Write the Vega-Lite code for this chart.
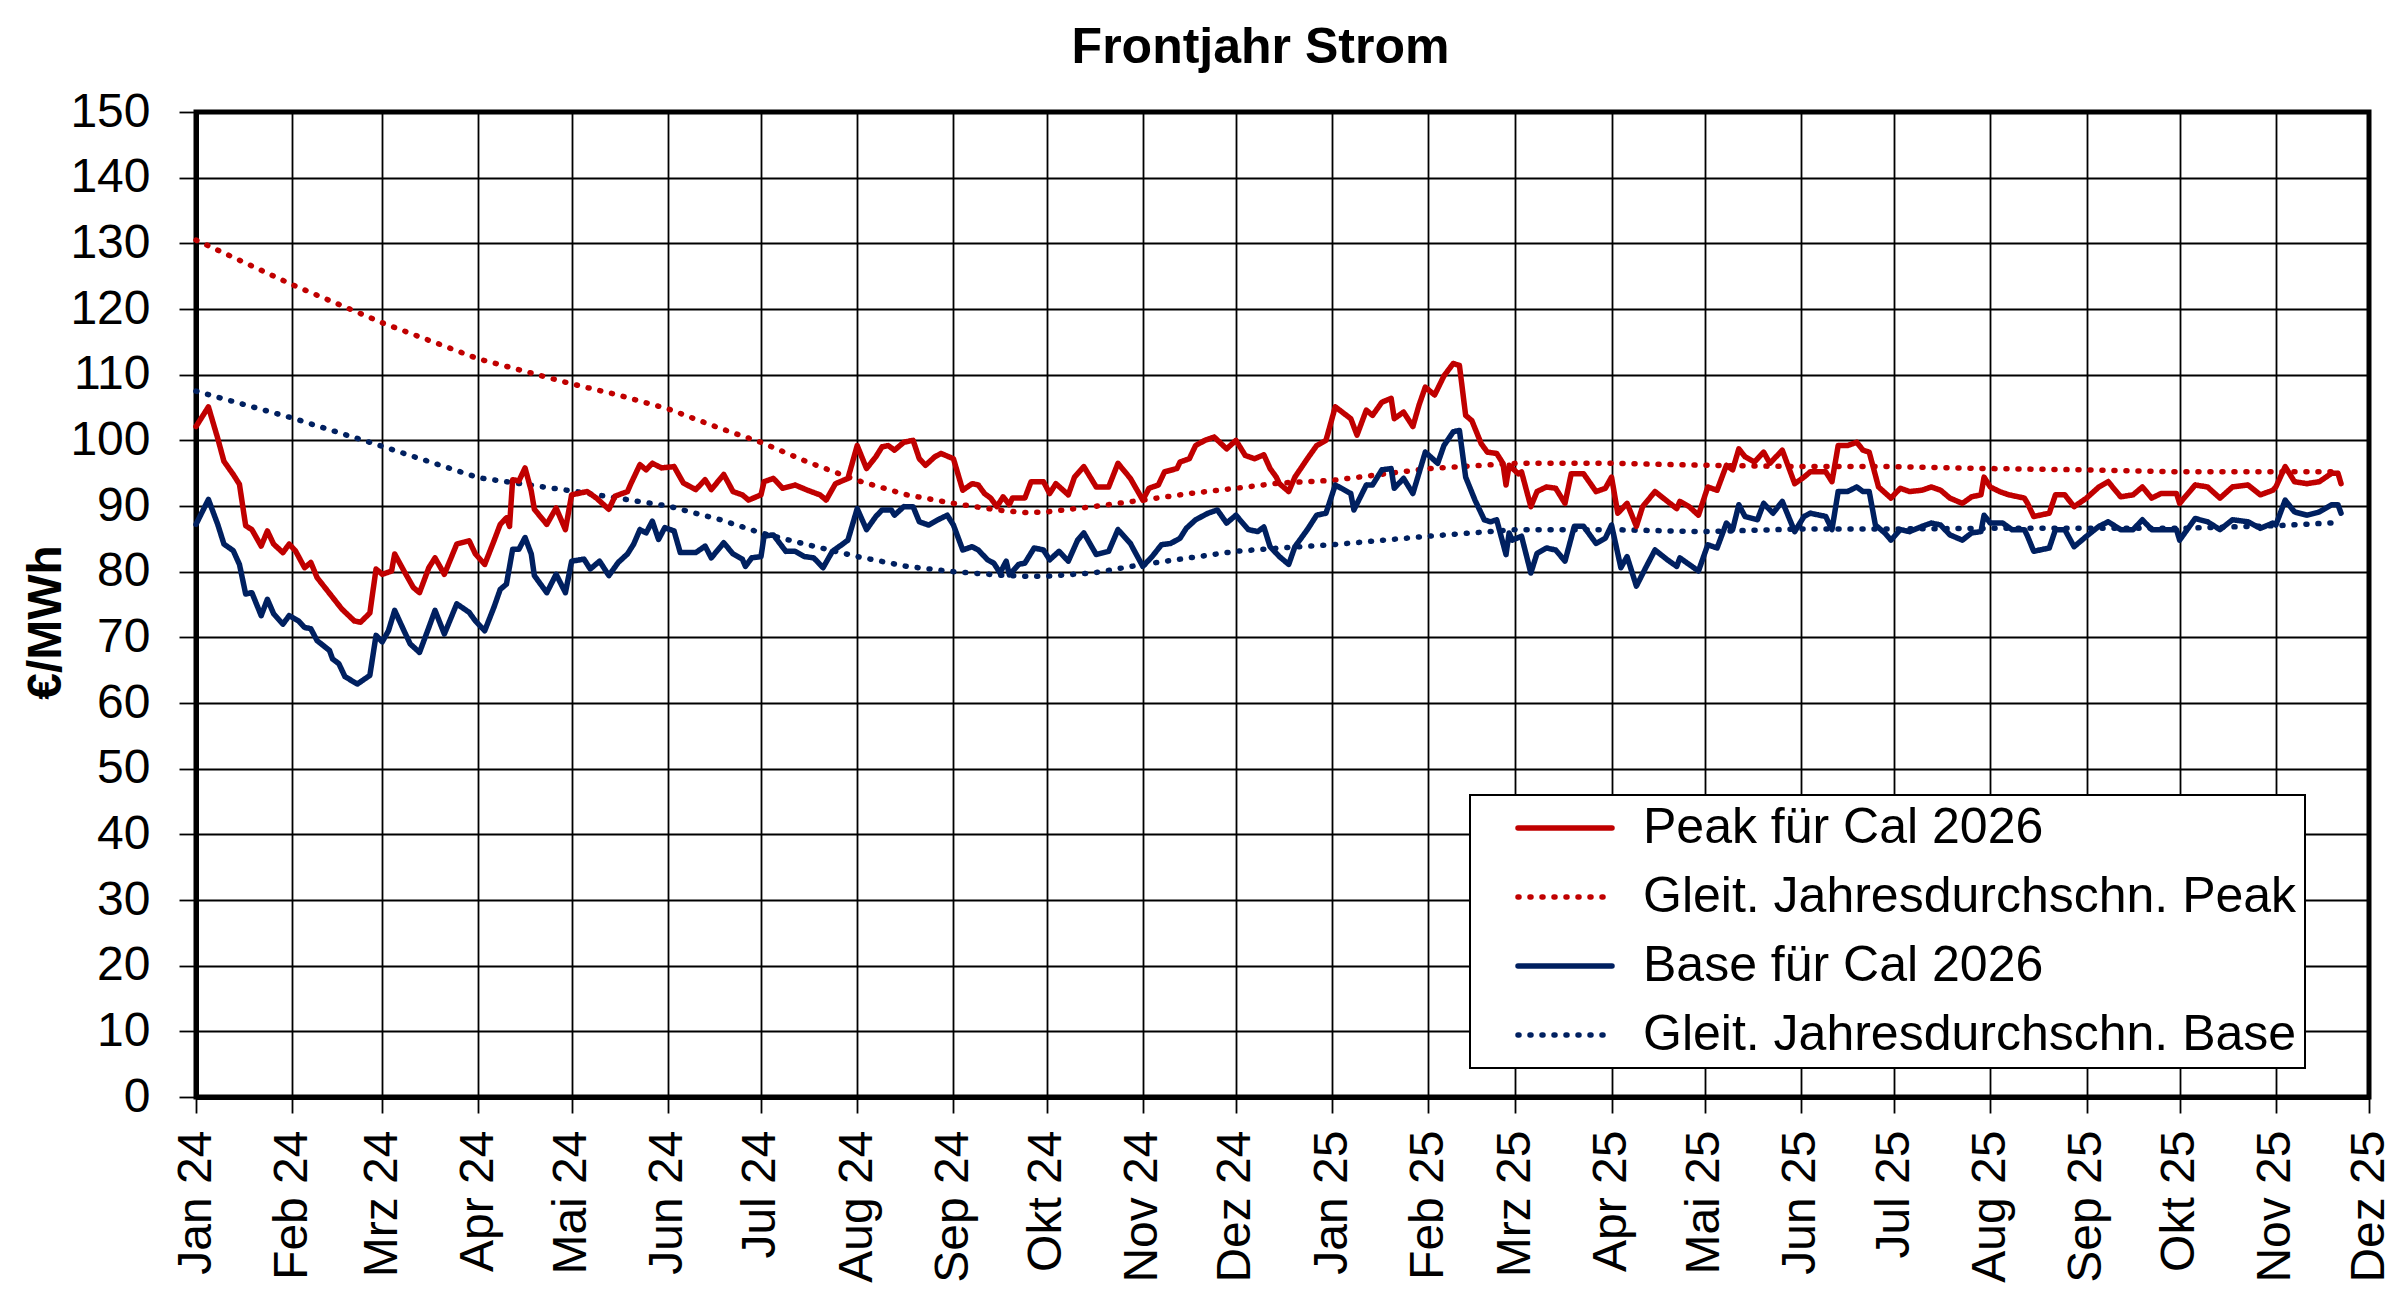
{
"$schema": "https://vega.github.io/schema/vega-lite/v6.json",
"width": 2173, "height": 985,
"autosize": {"type": "none"},
"padding": {"left": 196, "top": 112, "right": 31, "bottom": 201},
"background": "white",
"config": {
 "font": "Liberation Sans",
 "view": {"stroke": "black", "strokeWidth": 5},
 "axis": {"domainColor": "black", "domainWidth": 5, "gridColor": "black", "gridWidth": 1.8, "gridOpacity": 1, "tickColor": "black", "tickWidth": 1.8, "labelColor": "black", "labelFont": "Liberation Sans", "labelFontSize": 48, "titleFont": "Liberation Sans", "titleColor": "black", "labelOverlap": false, "labelFlush": false}
},
"title": {"text": "Frontjahr Strom", "fontSize": 50, "fontWeight": "bold", "font": "Liberation Sans", "color": "black", "anchor": "middle", "frame": "group", "offset": 15, "dx": -22},
"data": {"values": [
{"d":"2024-01-01","s":"Gleit. Jahresdurchschn. Peak","v":130.5},
{"d":"2024-02-01","s":"Gleit. Jahresdurchschn. Peak","v":123.7},
{"d":"2024-03-01","s":"Gleit. Jahresdurchschn. Peak","v":117.9},
{"d":"2024-04-01","s":"Gleit. Jahresdurchschn. Peak","v":112.4},
{"d":"2024-05-01","s":"Gleit. Jahresdurchschn. Peak","v":108.6},
{"d":"2024-05-16","s":"Gleit. Jahresdurchschn. Peak","v":106.9},
{"d":"2024-06-01","s":"Gleit. Jahresdurchschn. Peak","v":104.8},
{"d":"2024-06-18","s":"Gleit. Jahresdurchschn. Peak","v":101.8},
{"d":"2024-07-01","s":"Gleit. Jahresdurchschn. Peak","v":99.7},
{"d":"2024-07-16","s":"Gleit. Jahresdurchschn. Peak","v":96.7},
{"d":"2024-08-01","s":"Gleit. Jahresdurchschn. Peak","v":93.9},
{"d":"2024-08-17","s":"Gleit. Jahresdurchschn. Peak","v":91.7},
{"d":"2024-09-01","s":"Gleit. Jahresdurchschn. Peak","v":90.4},
{"d":"2024-09-15","s":"Gleit. Jahresdurchschn. Peak","v":89.4},
{"d":"2024-09-24","s":"Gleit. Jahresdurchschn. Peak","v":89.0},
{"d":"2024-10-01","s":"Gleit. Jahresdurchschn. Peak","v":89.1},
{"d":"2024-10-16","s":"Gleit. Jahresdurchschn. Peak","v":89.9},
{"d":"2024-11-01","s":"Gleit. Jahresdurchschn. Peak","v":90.9},
{"d":"2024-11-16","s":"Gleit. Jahresdurchschn. Peak","v":91.9},
{"d":"2024-12-01","s":"Gleit. Jahresdurchschn. Peak","v":92.7},
{"d":"2024-12-15","s":"Gleit. Jahresdurchschn. Peak","v":93.5},
{"d":"2025-01-01","s":"Gleit. Jahresdurchschn. Peak","v":93.9},
{"d":"2025-02-01","s":"Gleit. Jahresdurchschn. Peak","v":95.7},
{"d":"2025-03-01","s":"Gleit. Jahresdurchschn. Peak","v":96.5},
{"d":"2025-04-01","s":"Gleit. Jahresdurchschn. Peak","v":96.5},
{"d":"2025-05-01","s":"Gleit. Jahresdurchschn. Peak","v":96.2},
{"d":"2025-06-01","s":"Gleit. Jahresdurchschn. Peak","v":96.0},
{"d":"2025-07-01","s":"Gleit. Jahresdurchschn. Peak","v":96.0},
{"d":"2025-08-01","s":"Gleit. Jahresdurchschn. Peak","v":95.7},
{"d":"2025-09-01","s":"Gleit. Jahresdurchschn. Peak","v":95.5},
{"d":"2025-10-01","s":"Gleit. Jahresdurchschn. Peak","v":95.2},
{"d":"2025-11-01","s":"Gleit. Jahresdurchschn. Peak","v":95.2},
{"d":"2025-11-22","s":"Gleit. Jahresdurchschn. Peak","v":95.2},
{"d":"2024-01-01","s":"Gleit. Jahresdurchschn. Base","v":107.5},
{"d":"2024-02-01","s":"Gleit. Jahresdurchschn. Base","v":103.4},
{"d":"2024-03-01","s":"Gleit. Jahresdurchschn. Base","v":99.1},
{"d":"2024-04-01","s":"Gleit. Jahresdurchschn. Base","v":94.3},
{"d":"2024-05-01","s":"Gleit. Jahresdurchschn. Base","v":92.3},
{"d":"2024-06-01","s":"Gleit. Jahresdurchschn. Base","v":90.0},
{"d":"2024-06-18","s":"Gleit. Jahresdurchschn. Base","v":87.9},
{"d":"2024-07-01","s":"Gleit. Jahresdurchschn. Base","v":85.9},
{"d":"2024-07-16","s":"Gleit. Jahresdurchschn. Base","v":84.1},
{"d":"2024-08-01","s":"Gleit. Jahresdurchschn. Base","v":82.3},
{"d":"2024-08-17","s":"Gleit. Jahresdurchschn. Base","v":80.8},
{"d":"2024-09-01","s":"Gleit. Jahresdurchschn. Base","v":80.0},
{"d":"2024-09-15","s":"Gleit. Jahresdurchschn. Base","v":79.5},
{"d":"2024-09-24","s":"Gleit. Jahresdurchschn. Base","v":79.3},
{"d":"2024-10-01","s":"Gleit. Jahresdurchschn. Base","v":79.3},
{"d":"2024-10-16","s":"Gleit. Jahresdurchschn. Base","v":79.8},
{"d":"2024-11-01","s":"Gleit. Jahresdurchschn. Base","v":81.1},
{"d":"2024-11-16","s":"Gleit. Jahresdurchschn. Base","v":82.1},
{"d":"2024-12-01","s":"Gleit. Jahresdurchschn. Base","v":83.1},
{"d":"2024-12-15","s":"Gleit. Jahresdurchschn. Base","v":83.6},
{"d":"2025-01-01","s":"Gleit. Jahresdurchschn. Base","v":84.1},
{"d":"2025-02-01","s":"Gleit. Jahresdurchschn. Base","v":85.4},
{"d":"2025-03-01","s":"Gleit. Jahresdurchschn. Base","v":86.4},
{"d":"2025-04-01","s":"Gleit. Jahresdurchschn. Base","v":86.4},
{"d":"2025-05-01","s":"Gleit. Jahresdurchschn. Base","v":86.1},
{"d":"2025-06-01","s":"Gleit. Jahresdurchschn. Base","v":86.5},
{"d":"2025-07-01","s":"Gleit. Jahresdurchschn. Base","v":86.5},
{"d":"2025-08-01","s":"Gleit. Jahresdurchschn. Base","v":86.6},
{"d":"2025-09-01","s":"Gleit. Jahresdurchschn. Base","v":86.6},
{"d":"2025-10-01","s":"Gleit. Jahresdurchschn. Base","v":86.6},
{"d":"2025-11-01","s":"Gleit. Jahresdurchschn. Base","v":87.0},
{"d":"2025-11-22","s":"Gleit. Jahresdurchschn. Base","v":87.5},
{"d":"2024-01-01","s":"Base für Cal 2026","v":87.2},
{"d":"2024-01-05","s":"Base für Cal 2026","v":91.0},
{"d":"2024-01-08","s":"Base für Cal 2026","v":87.2},
{"d":"2024-01-10","s":"Base für Cal 2026","v":84.2},
{"d":"2024-01-13","s":"Base für Cal 2026","v":83.2},
{"d":"2024-01-15","s":"Base für Cal 2026","v":81.1},
{"d":"2024-01-17","s":"Base für Cal 2026","v":76.6},
{"d":"2024-01-19","s":"Base für Cal 2026","v":76.8},
{"d":"2024-01-22","s":"Base für Cal 2026","v":73.3},
{"d":"2024-01-24","s":"Base für Cal 2026","v":75.8},
{"d":"2024-01-26","s":"Base für Cal 2026","v":73.6},
{"d":"2024-01-29","s":"Base für Cal 2026","v":72.0},
{"d":"2024-01-31","s":"Base für Cal 2026","v":73.3},
{"d":"2024-02-03","s":"Base für Cal 2026","v":72.5},
{"d":"2024-02-05","s":"Base für Cal 2026","v":71.5},
{"d":"2024-02-07","s":"Base für Cal 2026","v":71.3},
{"d":"2024-02-09","s":"Base für Cal 2026","v":69.5},
{"d":"2024-02-13","s":"Base für Cal 2026","v":68.0},
{"d":"2024-02-14","s":"Base für Cal 2026","v":66.7},
{"d":"2024-02-16","s":"Base für Cal 2026","v":66.0},
{"d":"2024-02-18","s":"Base für Cal 2026","v":64.0},
{"d":"2024-02-22","s":"Base für Cal 2026","v":62.9},
{"d":"2024-02-26","s":"Base für Cal 2026","v":64.2},
{"d":"2024-02-28","s":"Base für Cal 2026","v":70.3},
{"d":"2024-03-01","s":"Base für Cal 2026","v":69.3},
{"d":"2024-03-03","s":"Base für Cal 2026","v":71.0},
{"d":"2024-03-05","s":"Base für Cal 2026","v":74.1},
{"d":"2024-03-08","s":"Base für Cal 2026","v":71.0},
{"d":"2024-03-10","s":"Base für Cal 2026","v":69.0},
{"d":"2024-03-13","s":"Base für Cal 2026","v":67.7},
{"d":"2024-03-16","s":"Base für Cal 2026","v":71.5},
{"d":"2024-03-18","s":"Base für Cal 2026","v":74.1},
{"d":"2024-03-21","s":"Base für Cal 2026","v":70.5},
{"d":"2024-03-25","s":"Base für Cal 2026","v":75.1},
{"d":"2024-03-29","s":"Base für Cal 2026","v":73.8},
{"d":"2024-03-31","s":"Base für Cal 2026","v":72.5},
{"d":"2024-04-03","s":"Base für Cal 2026","v":71.0},
{"d":"2024-04-06","s":"Base für Cal 2026","v":74.6},
{"d":"2024-04-08","s":"Base für Cal 2026","v":77.3},
{"d":"2024-04-10","s":"Base für Cal 2026","v":78.1},
{"d":"2024-04-12","s":"Base für Cal 2026","v":83.4},
{"d":"2024-04-14","s":"Base für Cal 2026","v":83.4},
{"d":"2024-04-16","s":"Base für Cal 2026","v":85.2},
{"d":"2024-04-18","s":"Base für Cal 2026","v":82.7},
{"d":"2024-04-19","s":"Base für Cal 2026","v":79.4},
{"d":"2024-04-23","s":"Base für Cal 2026","v":76.8},
{"d":"2024-04-26","s":"Base für Cal 2026","v":79.6},
{"d":"2024-04-29","s":"Base für Cal 2026","v":76.8},
{"d":"2024-05-01","s":"Base für Cal 2026","v":81.6},
{"d":"2024-05-05","s":"Base für Cal 2026","v":81.9},
{"d":"2024-05-07","s":"Base für Cal 2026","v":80.4},
{"d":"2024-05-10","s":"Base für Cal 2026","v":81.6},
{"d":"2024-05-13","s":"Base für Cal 2026","v":79.4},
{"d":"2024-05-16","s":"Base für Cal 2026","v":81.4},
{"d":"2024-05-19","s":"Base für Cal 2026","v":82.7},
{"d":"2024-05-21","s":"Base für Cal 2026","v":84.2},
{"d":"2024-05-23","s":"Base für Cal 2026","v":86.4},
{"d":"2024-05-25","s":"Base für Cal 2026","v":85.9},
{"d":"2024-05-27","s":"Base für Cal 2026","v":87.7},
{"d":"2024-05-29","s":"Base für Cal 2026","v":84.9},
{"d":"2024-05-31","s":"Base für Cal 2026","v":86.7},
{"d":"2024-06-03","s":"Base für Cal 2026","v":86.2},
{"d":"2024-06-05","s":"Base für Cal 2026","v":82.9},
{"d":"2024-06-10","s":"Base für Cal 2026","v":82.9},
{"d":"2024-06-13","s":"Base für Cal 2026","v":83.9},
{"d":"2024-06-15","s":"Base für Cal 2026","v":82.1},
{"d":"2024-06-19","s":"Base für Cal 2026","v":84.4},
{"d":"2024-06-22","s":"Base für Cal 2026","v":82.7},
{"d":"2024-06-25","s":"Base für Cal 2026","v":81.9},
{"d":"2024-06-26","s":"Base für Cal 2026","v":80.8},
{"d":"2024-06-28","s":"Base für Cal 2026","v":82.1},
{"d":"2024-07-01","s":"Base für Cal 2026","v":82.3},
{"d":"2024-07-02","s":"Base für Cal 2026","v":85.4},
{"d":"2024-07-05","s":"Base für Cal 2026","v":85.6},
{"d":"2024-07-09","s":"Base für Cal 2026","v":83.1},
{"d":"2024-07-12","s":"Base für Cal 2026","v":83.1},
{"d":"2024-07-15","s":"Base für Cal 2026","v":82.3},
{"d":"2024-07-18","s":"Base für Cal 2026","v":82.1},
{"d":"2024-07-21","s":"Base für Cal 2026","v":80.6},
{"d":"2024-07-24","s":"Base für Cal 2026","v":83.1},
{"d":"2024-07-27","s":"Base für Cal 2026","v":84.1},
{"d":"2024-07-29","s":"Base für Cal 2026","v":84.8},
{"d":"2024-08-01","s":"Base für Cal 2026","v":89.6},
{"d":"2024-08-04","s":"Base für Cal 2026","v":86.4},
{"d":"2024-08-07","s":"Base für Cal 2026","v":88.4},
{"d":"2024-08-09","s":"Base für Cal 2026","v":89.4},
{"d":"2024-08-12","s":"Base für Cal 2026","v":89.4},
{"d":"2024-08-13","s":"Base für Cal 2026","v":88.6},
{"d":"2024-08-16","s":"Base für Cal 2026","v":89.9},
{"d":"2024-08-19","s":"Base für Cal 2026","v":89.9},
{"d":"2024-08-21","s":"Base für Cal 2026","v":87.6},
{"d":"2024-08-24","s":"Base für Cal 2026","v":87.1},
{"d":"2024-08-27","s":"Base für Cal 2026","v":87.9},
{"d":"2024-08-30","s":"Base für Cal 2026","v":88.6},
{"d":"2024-09-01","s":"Base für Cal 2026","v":87.1},
{"d":"2024-09-04","s":"Base für Cal 2026","v":83.3},
{"d":"2024-09-07","s":"Base für Cal 2026","v":83.8},
{"d":"2024-09-09","s":"Base für Cal 2026","v":83.3},
{"d":"2024-09-12","s":"Base für Cal 2026","v":81.8},
{"d":"2024-09-14","s":"Base für Cal 2026","v":81.3},
{"d":"2024-09-16","s":"Base für Cal 2026","v":79.8},
{"d":"2024-09-18","s":"Base für Cal 2026","v":81.6},
{"d":"2024-09-19","s":"Base für Cal 2026","v":79.5},
{"d":"2024-09-22","s":"Base für Cal 2026","v":81.1},
{"d":"2024-09-24","s":"Base für Cal 2026","v":81.3},
{"d":"2024-09-27","s":"Base für Cal 2026","v":83.6},
{"d":"2024-09-30","s":"Base für Cal 2026","v":83.3},
{"d":"2024-10-02","s":"Base für Cal 2026","v":81.8},
{"d":"2024-10-05","s":"Base für Cal 2026","v":83.1},
{"d":"2024-10-08","s":"Base für Cal 2026","v":81.6},
{"d":"2024-10-11","s":"Base für Cal 2026","v":84.8},
{"d":"2024-10-13","s":"Base für Cal 2026","v":85.9},
{"d":"2024-10-17","s":"Base für Cal 2026","v":82.6},
{"d":"2024-10-21","s":"Base für Cal 2026","v":83.1},
{"d":"2024-10-24","s":"Base für Cal 2026","v":86.4},
{"d":"2024-10-28","s":"Base für Cal 2026","v":84.3},
{"d":"2024-11-01","s":"Base für Cal 2026","v":80.8},
{"d":"2024-11-04","s":"Base für Cal 2026","v":82.3},
{"d":"2024-11-07","s":"Base für Cal 2026","v":84.1},
{"d":"2024-11-10","s":"Base für Cal 2026","v":84.3},
{"d":"2024-11-13","s":"Base für Cal 2026","v":85.1},
{"d":"2024-11-15","s":"Base für Cal 2026","v":86.6},
{"d":"2024-11-18","s":"Base für Cal 2026","v":87.9},
{"d":"2024-11-22","s":"Base für Cal 2026","v":88.9},
{"d":"2024-11-25","s":"Base für Cal 2026","v":89.4},
{"d":"2024-11-28","s":"Base für Cal 2026","v":87.4},
{"d":"2024-12-01","s":"Base für Cal 2026","v":88.6},
{"d":"2024-12-05","s":"Base für Cal 2026","v":86.4},
{"d":"2024-12-08","s":"Base für Cal 2026","v":86.1},
{"d":"2024-12-10","s":"Base für Cal 2026","v":86.8},
{"d":"2024-12-12","s":"Base für Cal 2026","v":83.8},
{"d":"2024-12-14","s":"Base für Cal 2026","v":82.8},
{"d":"2024-12-15","s":"Base für Cal 2026","v":82.3},
{"d":"2024-12-18","s":"Base für Cal 2026","v":81.1},
{"d":"2024-12-20","s":"Base für Cal 2026","v":83.8},
{"d":"2024-12-24","s":"Base für Cal 2026","v":86.4},
{"d":"2024-12-27","s":"Base für Cal 2026","v":88.6},
{"d":"2024-12-30","s":"Base für Cal 2026","v":88.9},
{"d":"2025-01-02","s":"Base für Cal 2026","v":93.2},
{"d":"2025-01-07","s":"Base für Cal 2026","v":91.9},
{"d":"2025-01-08","s":"Base für Cal 2026","v":89.4},
{"d":"2025-01-12","s":"Base für Cal 2026","v":93.2},
{"d":"2025-01-14","s":"Base für Cal 2026","v":93.2},
{"d":"2025-01-17","s":"Base für Cal 2026","v":95.5},
{"d":"2025-01-20","s":"Base für Cal 2026","v":95.7},
{"d":"2025-01-21","s":"Base für Cal 2026","v":92.7},
{"d":"2025-01-24","s":"Base für Cal 2026","v":94.2},
{"d":"2025-01-27","s":"Base für Cal 2026","v":91.9},
{"d":"2025-01-31","s":"Base für Cal 2026","v":98.2},
{"d":"2025-02-04","s":"Base für Cal 2026","v":96.5},
{"d":"2025-02-06","s":"Base für Cal 2026","v":99.2},
{"d":"2025-02-09","s":"Base für Cal 2026","v":101.3},
{"d":"2025-02-11","s":"Base für Cal 2026","v":101.5},
{"d":"2025-02-13","s":"Base für Cal 2026","v":94.4},
{"d":"2025-02-16","s":"Base für Cal 2026","v":90.9},
{"d":"2025-02-19","s":"Base für Cal 2026","v":87.9},
{"d":"2025-02-21","s":"Base für Cal 2026","v":87.6},
{"d":"2025-02-23","s":"Base für Cal 2026","v":87.9},
{"d":"2025-02-26","s":"Base für Cal 2026","v":82.6},
{"d":"2025-02-27","s":"Base für Cal 2026","v":85.9},
{"d":"2025-02-28","s":"Base für Cal 2026","v":84.8},
{"d":"2025-03-03","s":"Base für Cal 2026","v":85.4},
{"d":"2025-03-06","s":"Base für Cal 2026","v":79.8},
{"d":"2025-03-08","s":"Base für Cal 2026","v":82.8},
{"d":"2025-03-11","s":"Base für Cal 2026","v":83.6},
{"d":"2025-03-14","s":"Base für Cal 2026","v":83.3},
{"d":"2025-03-17","s":"Base für Cal 2026","v":81.6},
{"d":"2025-03-20","s":"Base für Cal 2026","v":86.9},
{"d":"2025-03-23","s":"Base für Cal 2026","v":86.9},
{"d":"2025-03-27","s":"Base für Cal 2026","v":84.3},
{"d":"2025-03-30","s":"Base für Cal 2026","v":85.1},
{"d":"2025-04-01","s":"Base für Cal 2026","v":87.1},
{"d":"2025-04-04","s":"Base für Cal 2026","v":80.6},
{"d":"2025-04-06","s":"Base für Cal 2026","v":82.3},
{"d":"2025-04-09","s":"Base für Cal 2026","v":77.8},
{"d":"2025-04-12","s":"Base für Cal 2026","v":80.6},
{"d":"2025-04-15","s":"Base für Cal 2026","v":83.3},
{"d":"2025-04-19","s":"Base für Cal 2026","v":81.8},
{"d":"2025-04-22","s":"Base für Cal 2026","v":80.8},
{"d":"2025-04-23","s":"Base für Cal 2026","v":82.1},
{"d":"2025-04-26","s":"Base für Cal 2026","v":81.1},
{"d":"2025-04-29","s":"Base für Cal 2026","v":80.1},
{"d":"2025-05-02","s":"Base für Cal 2026","v":84.1},
{"d":"2025-05-05","s":"Base für Cal 2026","v":83.6},
{"d":"2025-05-08","s":"Base für Cal 2026","v":87.4},
{"d":"2025-05-10","s":"Base für Cal 2026","v":86.4},
{"d":"2025-05-12","s":"Base für Cal 2026","v":90.2},
{"d":"2025-05-14","s":"Base für Cal 2026","v":88.4},
{"d":"2025-05-18","s":"Base für Cal 2026","v":87.9},
{"d":"2025-05-20","s":"Base für Cal 2026","v":90.4},
{"d":"2025-05-23","s":"Base für Cal 2026","v":88.9},
{"d":"2025-05-26","s":"Base für Cal 2026","v":90.7},
{"d":"2025-05-30","s":"Base für Cal 2026","v":86.1},
{"d":"2025-06-02","s":"Base für Cal 2026","v":88.4},
{"d":"2025-06-04","s":"Base für Cal 2026","v":88.9},
{"d":"2025-06-07","s":"Base für Cal 2026","v":88.6},
{"d":"2025-06-09","s":"Base für Cal 2026","v":88.4},
{"d":"2025-06-11","s":"Base für Cal 2026","v":86.4},
{"d":"2025-06-13","s":"Base für Cal 2026","v":92.2},
{"d":"2025-06-16","s":"Base für Cal 2026","v":92.2},
{"d":"2025-06-19","s":"Base für Cal 2026","v":92.9},
{"d":"2025-06-21","s":"Base für Cal 2026","v":92.2},
{"d":"2025-06-23","s":"Base für Cal 2026","v":92.2},
{"d":"2025-06-25","s":"Base für Cal 2026","v":87.1},
{"d":"2025-06-28","s":"Base für Cal 2026","v":85.9},
{"d":"2025-06-30","s":"Base für Cal 2026","v":84.8},
{"d":"2025-07-03","s":"Base für Cal 2026","v":86.4},
{"d":"2025-07-06","s":"Base für Cal 2026","v":86.1},
{"d":"2025-07-10","s":"Base für Cal 2026","v":86.9},
{"d":"2025-07-13","s":"Base für Cal 2026","v":87.4},
{"d":"2025-07-16","s":"Base für Cal 2026","v":87.1},
{"d":"2025-07-19","s":"Base für Cal 2026","v":85.6},
{"d":"2025-07-23","s":"Base für Cal 2026","v":84.8},
{"d":"2025-07-26","s":"Base für Cal 2026","v":85.9},
{"d":"2025-07-29","s":"Base für Cal 2026","v":86.1},
{"d":"2025-07-30","s":"Base für Cal 2026","v":88.6},
{"d":"2025-08-01","s":"Base für Cal 2026","v":87.4},
{"d":"2025-08-05","s":"Base für Cal 2026","v":87.4},
{"d":"2025-08-08","s":"Base für Cal 2026","v":86.4},
{"d":"2025-08-12","s":"Base für Cal 2026","v":86.4},
{"d":"2025-08-13","s":"Base für Cal 2026","v":85.4},
{"d":"2025-08-15","s":"Base für Cal 2026","v":83.1},
{"d":"2025-08-20","s":"Base für Cal 2026","v":83.6},
{"d":"2025-08-22","s":"Base für Cal 2026","v":86.4},
{"d":"2025-08-25","s":"Base für Cal 2026","v":86.4},
{"d":"2025-08-28","s":"Base für Cal 2026","v":83.8},
{"d":"2025-09-01","s":"Base für Cal 2026","v":85.4},
{"d":"2025-09-05","s":"Base für Cal 2026","v":86.9},
{"d":"2025-09-08","s":"Base für Cal 2026","v":87.6},
{"d":"2025-09-12","s":"Base für Cal 2026","v":86.4},
{"d":"2025-09-16","s":"Base für Cal 2026","v":86.4},
{"d":"2025-09-19","s":"Base für Cal 2026","v":87.9},
{"d":"2025-09-22","s":"Base für Cal 2026","v":86.4},
{"d":"2025-09-25","s":"Base für Cal 2026","v":86.4},
{"d":"2025-09-30","s":"Base für Cal 2026","v":86.4},
{"d":"2025-10-01","s":"Base für Cal 2026","v":84.8},
{"d":"2025-10-06","s":"Base für Cal 2026","v":88.1},
{"d":"2025-10-10","s":"Base für Cal 2026","v":87.6},
{"d":"2025-10-14","s":"Base für Cal 2026","v":86.4},
{"d":"2025-10-18","s":"Base für Cal 2026","v":87.9},
{"d":"2025-10-23","s":"Base für Cal 2026","v":87.6},
{"d":"2025-10-27","s":"Base für Cal 2026","v":86.6},
{"d":"2025-10-31","s":"Base für Cal 2026","v":87.4},
{"d":"2025-11-01","s":"Base für Cal 2026","v":87.1},
{"d":"2025-11-04","s":"Base für Cal 2026","v":90.9},
{"d":"2025-11-07","s":"Base für Cal 2026","v":89.1},
{"d":"2025-11-11","s":"Base für Cal 2026","v":88.6},
{"d":"2025-11-15","s":"Base für Cal 2026","v":89.1},
{"d":"2025-11-19","s":"Base für Cal 2026","v":90.2},
{"d":"2025-11-21","s":"Base für Cal 2026","v":90.2},
{"d":"2025-11-22","s":"Base für Cal 2026","v":88.9},
{"d":"2024-01-01","s":"Peak für Cal 2026","v":102.1},
{"d":"2024-01-05","s":"Peak für Cal 2026","v":105.1},
{"d":"2024-01-08","s":"Peak für Cal 2026","v":100.3},
{"d":"2024-01-10","s":"Peak für Cal 2026","v":96.8},
{"d":"2024-01-13","s":"Peak für Cal 2026","v":94.8},
{"d":"2024-01-15","s":"Peak für Cal 2026","v":93.3},
{"d":"2024-01-17","s":"Peak für Cal 2026","v":87.0},
{"d":"2024-01-19","s":"Peak für Cal 2026","v":86.4},
{"d":"2024-01-22","s":"Peak für Cal 2026","v":83.9},
{"d":"2024-01-24","s":"Peak für Cal 2026","v":86.2},
{"d":"2024-01-26","s":"Peak für Cal 2026","v":84.2},
{"d":"2024-01-29","s":"Peak für Cal 2026","v":82.9},
{"d":"2024-01-31","s":"Peak für Cal 2026","v":84.2},
{"d":"2024-02-02","s":"Peak für Cal 2026","v":83.2},
{"d":"2024-02-05","s":"Peak für Cal 2026","v":80.6},
{"d":"2024-02-07","s":"Peak für Cal 2026","v":81.4},
{"d":"2024-02-09","s":"Peak für Cal 2026","v":79.1},
{"d":"2024-02-14","s":"Peak für Cal 2026","v":76.1},
{"d":"2024-02-17","s":"Peak für Cal 2026","v":74.3},
{"d":"2024-02-21","s":"Peak für Cal 2026","v":72.5},
{"d":"2024-02-23","s":"Peak für Cal 2026","v":72.3},
{"d":"2024-02-26","s":"Peak für Cal 2026","v":73.7},
{"d":"2024-02-28","s":"Peak für Cal 2026","v":80.4},
{"d":"2024-03-01","s":"Peak für Cal 2026","v":79.6},
{"d":"2024-03-04","s":"Peak für Cal 2026","v":80.1},
{"d":"2024-03-05","s":"Peak für Cal 2026","v":82.7},
{"d":"2024-03-08","s":"Peak für Cal 2026","v":80.1},
{"d":"2024-03-11","s":"Peak für Cal 2026","v":77.6},
{"d":"2024-03-13","s":"Peak für Cal 2026","v":76.8},
{"d":"2024-03-16","s":"Peak für Cal 2026","v":80.6},
{"d":"2024-03-18","s":"Peak für Cal 2026","v":82.1},
{"d":"2024-03-21","s":"Peak für Cal 2026","v":79.6},
{"d":"2024-03-25","s":"Peak für Cal 2026","v":84.2},
{"d":"2024-03-29","s":"Peak für Cal 2026","v":84.7},
{"d":"2024-03-31","s":"Peak für Cal 2026","v":82.7},
{"d":"2024-04-03","s":"Peak für Cal 2026","v":81.1},
{"d":"2024-04-06","s":"Peak für Cal 2026","v":84.7},
{"d":"2024-04-08","s":"Peak für Cal 2026","v":87.2},
{"d":"2024-04-10","s":"Peak für Cal 2026","v":88.2},
{"d":"2024-04-11","s":"Peak für Cal 2026","v":86.9},
{"d":"2024-04-12","s":"Peak für Cal 2026","v":94.0},
{"d":"2024-04-14","s":"Peak für Cal 2026","v":93.8},
{"d":"2024-04-16","s":"Peak für Cal 2026","v":95.8},
{"d":"2024-04-18","s":"Peak für Cal 2026","v":92.3},
{"d":"2024-04-19","s":"Peak für Cal 2026","v":89.5},
{"d":"2024-04-23","s":"Peak für Cal 2026","v":87.2},
{"d":"2024-04-26","s":"Peak für Cal 2026","v":89.7},
{"d":"2024-04-29","s":"Peak für Cal 2026","v":86.4},
{"d":"2024-05-01","s":"Peak für Cal 2026","v":91.7},
{"d":"2024-05-06","s":"Peak für Cal 2026","v":92.2},
{"d":"2024-05-09","s":"Peak für Cal 2026","v":91.2},
{"d":"2024-05-13","s":"Peak für Cal 2026","v":89.5},
{"d":"2024-05-15","s":"Peak für Cal 2026","v":91.5},
{"d":"2024-05-19","s":"Peak für Cal 2026","v":92.2},
{"d":"2024-05-20","s":"Peak für Cal 2026","v":93.3},
{"d":"2024-05-23","s":"Peak für Cal 2026","v":96.3},
{"d":"2024-05-25","s":"Peak für Cal 2026","v":95.5},
{"d":"2024-05-27","s":"Peak für Cal 2026","v":96.5},
{"d":"2024-05-30","s":"Peak für Cal 2026","v":95.8},
{"d":"2024-06-03","s":"Peak für Cal 2026","v":96.0},
{"d":"2024-06-06","s":"Peak für Cal 2026","v":93.5},
{"d":"2024-06-10","s":"Peak für Cal 2026","v":92.5},
{"d":"2024-06-13","s":"Peak für Cal 2026","v":94.0},
{"d":"2024-06-15","s":"Peak für Cal 2026","v":92.5},
{"d":"2024-06-19","s":"Peak für Cal 2026","v":94.8},
{"d":"2024-06-22","s":"Peak für Cal 2026","v":92.2},
{"d":"2024-06-25","s":"Peak für Cal 2026","v":91.7},
{"d":"2024-06-27","s":"Peak für Cal 2026","v":90.9},
{"d":"2024-07-01","s":"Peak für Cal 2026","v":91.7},
{"d":"2024-07-02","s":"Peak für Cal 2026","v":93.7},
{"d":"2024-07-05","s":"Peak für Cal 2026","v":94.2},
{"d":"2024-07-08","s":"Peak für Cal 2026","v":92.7},
{"d":"2024-07-12","s":"Peak für Cal 2026","v":93.2},
{"d":"2024-07-16","s":"Peak für Cal 2026","v":92.4},
{"d":"2024-07-20","s":"Peak für Cal 2026","v":91.7},
{"d":"2024-07-22","s":"Peak für Cal 2026","v":90.9},
{"d":"2024-07-25","s":"Peak für Cal 2026","v":93.4},
{"d":"2024-07-29","s":"Peak für Cal 2026","v":94.2},
{"d":"2024-08-01","s":"Peak für Cal 2026","v":99.2},
{"d":"2024-08-04","s":"Peak für Cal 2026","v":95.7},
{"d":"2024-08-07","s":"Peak für Cal 2026","v":97.5},
{"d":"2024-08-09","s":"Peak für Cal 2026","v":99.0},
{"d":"2024-08-11","s":"Peak für Cal 2026","v":99.2},
{"d":"2024-08-13","s":"Peak für Cal 2026","v":98.5},
{"d":"2024-08-16","s":"Peak für Cal 2026","v":99.7},
{"d":"2024-08-19","s":"Peak für Cal 2026","v":100.0},
{"d":"2024-08-21","s":"Peak für Cal 2026","v":97.2},
{"d":"2024-08-23","s":"Peak für Cal 2026","v":96.2},
{"d":"2024-08-26","s":"Peak für Cal 2026","v":97.5},
{"d":"2024-08-28","s":"Peak für Cal 2026","v":98.0},
{"d":"2024-09-01","s":"Peak für Cal 2026","v":97.2},
{"d":"2024-09-04","s":"Peak für Cal 2026","v":92.4},
{"d":"2024-09-07","s":"Peak für Cal 2026","v":93.4},
{"d":"2024-09-09","s":"Peak für Cal 2026","v":93.2},
{"d":"2024-09-11","s":"Peak für Cal 2026","v":91.9},
{"d":"2024-09-13","s":"Peak für Cal 2026","v":91.2},
{"d":"2024-09-15","s":"Peak für Cal 2026","v":89.9},
{"d":"2024-09-17","s":"Peak für Cal 2026","v":91.4},
{"d":"2024-09-19","s":"Peak für Cal 2026","v":90.2},
{"d":"2024-09-20","s":"Peak für Cal 2026","v":91.2},
{"d":"2024-09-24","s":"Peak für Cal 2026","v":91.2},
{"d":"2024-09-26","s":"Peak für Cal 2026","v":93.7},
{"d":"2024-09-30","s":"Peak für Cal 2026","v":93.7},
{"d":"2024-10-02","s":"Peak für Cal 2026","v":91.9},
{"d":"2024-10-04","s":"Peak für Cal 2026","v":93.4},
{"d":"2024-10-08","s":"Peak für Cal 2026","v":91.7},
{"d":"2024-10-10","s":"Peak für Cal 2026","v":94.4},
{"d":"2024-10-13","s":"Peak für Cal 2026","v":96.0},
{"d":"2024-10-17","s":"Peak für Cal 2026","v":92.9},
{"d":"2024-10-21","s":"Peak für Cal 2026","v":92.9},
{"d":"2024-10-24","s":"Peak für Cal 2026","v":96.5},
{"d":"2024-10-28","s":"Peak für Cal 2026","v":94.2},
{"d":"2024-11-01","s":"Peak für Cal 2026","v":90.9},
{"d":"2024-11-03","s":"Peak für Cal 2026","v":92.7},
{"d":"2024-11-06","s":"Peak für Cal 2026","v":93.2},
{"d":"2024-11-08","s":"Peak für Cal 2026","v":95.2},
{"d":"2024-11-12","s":"Peak für Cal 2026","v":95.7},
{"d":"2024-11-13","s":"Peak für Cal 2026","v":96.7},
{"d":"2024-11-16","s":"Peak für Cal 2026","v":97.2},
{"d":"2024-11-18","s":"Peak für Cal 2026","v":99.2},
{"d":"2024-11-21","s":"Peak für Cal 2026","v":100.0},
{"d":"2024-11-24","s":"Peak für Cal 2026","v":100.5},
{"d":"2024-11-28","s":"Peak für Cal 2026","v":98.7},
{"d":"2024-12-01","s":"Peak für Cal 2026","v":100.0},
{"d":"2024-12-04","s":"Peak für Cal 2026","v":97.7},
{"d":"2024-12-07","s":"Peak für Cal 2026","v":97.2},
{"d":"2024-12-10","s":"Peak für Cal 2026","v":97.8},
{"d":"2024-12-12","s":"Peak für Cal 2026","v":95.7},
{"d":"2024-12-14","s":"Peak für Cal 2026","v":94.4},
{"d":"2024-12-15","s":"Peak für Cal 2026","v":93.4},
{"d":"2024-12-18","s":"Peak für Cal 2026","v":92.2},
{"d":"2024-12-20","s":"Peak für Cal 2026","v":94.4},
{"d":"2024-12-24","s":"Peak für Cal 2026","v":97.2},
{"d":"2024-12-27","s":"Peak für Cal 2026","v":99.2},
{"d":"2024-12-30","s":"Peak für Cal 2026","v":100.0},
{"d":"2025-01-02","s":"Peak für Cal 2026","v":105.1},
{"d":"2025-01-07","s":"Peak für Cal 2026","v":103.3},
{"d":"2025-01-09","s":"Peak für Cal 2026","v":100.8},
{"d":"2025-01-12","s":"Peak für Cal 2026","v":104.6},
{"d":"2025-01-14","s":"Peak für Cal 2026","v":103.8},
{"d":"2025-01-17","s":"Peak für Cal 2026","v":105.8},
{"d":"2025-01-20","s":"Peak für Cal 2026","v":106.4},
{"d":"2025-01-21","s":"Peak für Cal 2026","v":103.3},
{"d":"2025-01-24","s":"Peak für Cal 2026","v":104.3},
{"d":"2025-01-27","s":"Peak für Cal 2026","v":102.1},
{"d":"2025-01-29","s":"Peak für Cal 2026","v":105.4},
{"d":"2025-01-31","s":"Peak für Cal 2026","v":108.1},
{"d":"2025-02-03","s":"Peak für Cal 2026","v":106.9},
{"d":"2025-02-06","s":"Peak für Cal 2026","v":109.8},
{"d":"2025-02-09","s":"Peak für Cal 2026","v":111.7},
{"d":"2025-02-11","s":"Peak für Cal 2026","v":111.4},
{"d":"2025-02-13","s":"Peak für Cal 2026","v":103.8},
{"d":"2025-02-15","s":"Peak für Cal 2026","v":103.0},
{"d":"2025-02-18","s":"Peak für Cal 2026","v":99.5},
{"d":"2025-02-20","s":"Peak für Cal 2026","v":98.2},
{"d":"2025-02-23","s":"Peak für Cal 2026","v":98.0},
{"d":"2025-02-25","s":"Peak für Cal 2026","v":96.5},
{"d":"2025-02-26","s":"Peak für Cal 2026","v":93.2},
{"d":"2025-02-27","s":"Peak für Cal 2026","v":96.2},
{"d":"2025-03-02","s":"Peak für Cal 2026","v":94.9},
{"d":"2025-03-03","s":"Peak für Cal 2026","v":95.2},
{"d":"2025-03-06","s":"Peak für Cal 2026","v":89.9},
{"d":"2025-03-08","s":"Peak für Cal 2026","v":92.2},
{"d":"2025-03-11","s":"Peak für Cal 2026","v":92.9},
{"d":"2025-03-14","s":"Peak für Cal 2026","v":92.7},
{"d":"2025-03-17","s":"Peak für Cal 2026","v":90.4},
{"d":"2025-03-19","s":"Peak für Cal 2026","v":94.9},
{"d":"2025-03-23","s":"Peak für Cal 2026","v":94.9},
{"d":"2025-03-27","s":"Peak für Cal 2026","v":92.2},
{"d":"2025-03-30","s":"Peak für Cal 2026","v":92.7},
{"d":"2025-04-01","s":"Peak für Cal 2026","v":94.4},
{"d":"2025-04-03","s":"Peak für Cal 2026","v":88.9},
{"d":"2025-04-06","s":"Peak für Cal 2026","v":90.4},
{"d":"2025-04-09","s":"Peak für Cal 2026","v":86.9},
{"d":"2025-04-11","s":"Peak für Cal 2026","v":89.9},
{"d":"2025-04-15","s":"Peak für Cal 2026","v":92.2},
{"d":"2025-04-19","s":"Peak für Cal 2026","v":90.7},
{"d":"2025-04-22","s":"Peak für Cal 2026","v":89.6},
{"d":"2025-04-23","s":"Peak für Cal 2026","v":90.7},
{"d":"2025-04-26","s":"Peak für Cal 2026","v":89.9},
{"d":"2025-04-29","s":"Peak für Cal 2026","v":88.6},
{"d":"2025-05-02","s":"Peak für Cal 2026","v":92.9},
{"d":"2025-05-05","s":"Peak für Cal 2026","v":92.4},
{"d":"2025-05-08","s":"Peak für Cal 2026","v":96.2},
{"d":"2025-05-10","s":"Peak für Cal 2026","v":95.5},
{"d":"2025-05-12","s":"Peak für Cal 2026","v":98.7},
{"d":"2025-05-14","s":"Peak für Cal 2026","v":97.5},
{"d":"2025-05-17","s":"Peak für Cal 2026","v":96.7},
{"d":"2025-05-20","s":"Peak für Cal 2026","v":98.2},
{"d":"2025-05-22","s":"Peak für Cal 2026","v":96.5},
{"d":"2025-05-26","s":"Peak für Cal 2026","v":98.5},
{"d":"2025-05-30","s":"Peak für Cal 2026","v":93.4},
{"d":"2025-06-02","s":"Peak für Cal 2026","v":94.4},
{"d":"2025-06-04","s":"Peak für Cal 2026","v":95.2},
{"d":"2025-06-07","s":"Peak für Cal 2026","v":95.2},
{"d":"2025-06-09","s":"Peak für Cal 2026","v":95.2},
{"d":"2025-06-11","s":"Peak für Cal 2026","v":93.7},
{"d":"2025-06-13","s":"Peak für Cal 2026","v":99.2},
{"d":"2025-06-16","s":"Peak für Cal 2026","v":99.2},
{"d":"2025-06-19","s":"Peak für Cal 2026","v":99.7},
{"d":"2025-06-21","s":"Peak für Cal 2026","v":98.5},
{"d":"2025-06-23","s":"Peak für Cal 2026","v":98.2},
{"d":"2025-06-26","s":"Peak für Cal 2026","v":92.9},
{"d":"2025-06-30","s":"Peak für Cal 2026","v":91.2},
{"d":"2025-07-03","s":"Peak für Cal 2026","v":92.7},
{"d":"2025-07-06","s":"Peak für Cal 2026","v":92.2},
{"d":"2025-07-10","s":"Peak für Cal 2026","v":92.4},
{"d":"2025-07-13","s":"Peak für Cal 2026","v":92.9},
{"d":"2025-07-16","s":"Peak für Cal 2026","v":92.4},
{"d":"2025-07-19","s":"Peak für Cal 2026","v":91.2},
{"d":"2025-07-23","s":"Peak für Cal 2026","v":90.4},
{"d":"2025-07-26","s":"Peak für Cal 2026","v":91.4},
{"d":"2025-07-29","s":"Peak für Cal 2026","v":91.7},
{"d":"2025-07-30","s":"Peak für Cal 2026","v":94.4},
{"d":"2025-08-01","s":"Peak für Cal 2026","v":92.9},
{"d":"2025-08-04","s":"Peak für Cal 2026","v":92.2},
{"d":"2025-08-07","s":"Peak für Cal 2026","v":91.7},
{"d":"2025-08-12","s":"Peak für Cal 2026","v":91.2},
{"d":"2025-08-13","s":"Peak für Cal 2026","v":90.4},
{"d":"2025-08-15","s":"Peak für Cal 2026","v":88.4},
{"d":"2025-08-20","s":"Peak für Cal 2026","v":88.9},
{"d":"2025-08-22","s":"Peak für Cal 2026","v":91.7},
{"d":"2025-08-25","s":"Peak für Cal 2026","v":91.7},
{"d":"2025-08-28","s":"Peak für Cal 2026","v":89.9},
{"d":"2025-09-01","s":"Peak für Cal 2026","v":91.2},
{"d":"2025-09-05","s":"Peak für Cal 2026","v":92.9},
{"d":"2025-09-08","s":"Peak für Cal 2026","v":93.7},
{"d":"2025-09-12","s":"Peak für Cal 2026","v":91.4},
{"d":"2025-09-16","s":"Peak für Cal 2026","v":91.7},
{"d":"2025-09-19","s":"Peak für Cal 2026","v":92.9},
{"d":"2025-09-22","s":"Peak für Cal 2026","v":91.2},
{"d":"2025-09-25","s":"Peak für Cal 2026","v":91.9},
{"d":"2025-09-30","s":"Peak für Cal 2026","v":91.9},
{"d":"2025-10-01","s":"Peak für Cal 2026","v":90.4},
{"d":"2025-10-06","s":"Peak für Cal 2026","v":93.2},
{"d":"2025-10-10","s":"Peak für Cal 2026","v":92.9},
{"d":"2025-10-14","s":"Peak für Cal 2026","v":91.2},
{"d":"2025-10-18","s":"Peak für Cal 2026","v":92.9},
{"d":"2025-10-23","s":"Peak für Cal 2026","v":93.2},
{"d":"2025-10-27","s":"Peak für Cal 2026","v":91.7},
{"d":"2025-10-31","s":"Peak für Cal 2026","v":92.4},
{"d":"2025-11-01","s":"Peak für Cal 2026","v":92.9},
{"d":"2025-11-04","s":"Peak für Cal 2026","v":96.0},
{"d":"2025-11-07","s":"Peak für Cal 2026","v":93.7},
{"d":"2025-11-11","s":"Peak für Cal 2026","v":93.4},
{"d":"2025-11-15","s":"Peak für Cal 2026","v":93.7},
{"d":"2025-11-19","s":"Peak für Cal 2026","v":95.0},
{"d":"2025-11-21","s":"Peak für Cal 2026","v":95.0},
{"d":"2025-11-22","s":"Peak für Cal 2026","v":93.4}
]},
"mark": {"type": "line", "strokeWidth": 5.5, "strokeCap": "round", "strokeJoin": "round"},
"encoding": {
 "x": {"field": "d", "type": "temporal",
  "scale": {"type": "utc", "domain": [{"year": 2024, "month": 1, "date": 1, "utc": true}, {"year": 2025, "month": 12, "date": 1, "utc": true}]},
  "axis": {"title": null, "grid": true, "labelAngle": 270, "labelPadding": 17, "tickSize": 16,
   "values": [
    {"year": 2024, "month": 1, "date": 1, "utc": true}, {"year": 2024, "month": 2, "date": 1, "utc": true}, {"year": 2024, "month": 3, "date": 1, "utc": true}, {"year": 2024, "month": 4, "date": 1, "utc": true}, {"year": 2024, "month": 5, "date": 1, "utc": true}, {"year": 2024, "month": 6, "date": 1, "utc": true}, {"year": 2024, "month": 7, "date": 1, "utc": true}, {"year": 2024, "month": 8, "date": 1, "utc": true}, {"year": 2024, "month": 9, "date": 1, "utc": true}, {"year": 2024, "month": 10, "date": 1, "utc": true}, {"year": 2024, "month": 11, "date": 1, "utc": true}, {"year": 2024, "month": 12, "date": 1, "utc": true},
    {"year": 2025, "month": 1, "date": 1, "utc": true}, {"year": 2025, "month": 2, "date": 1, "utc": true}, {"year": 2025, "month": 3, "date": 1, "utc": true}, {"year": 2025, "month": 4, "date": 1, "utc": true}, {"year": 2025, "month": 5, "date": 1, "utc": true}, {"year": 2025, "month": 6, "date": 1, "utc": true}, {"year": 2025, "month": 7, "date": 1, "utc": true}, {"year": 2025, "month": 8, "date": 1, "utc": true}, {"year": 2025, "month": 9, "date": 1, "utc": true}, {"year": 2025, "month": 10, "date": 1, "utc": true}, {"year": 2025, "month": 11, "date": 1, "utc": true}, {"year": 2025, "month": 12, "date": 1, "utc": true}
   ],
   "labelExpr": "['Jan','Feb','Mrz','Apr','Mai','Jun','Jul','Aug','Sep','Okt','Nov','Dez'][utcmonth(datum.value)] + ' ' + utcFormat(datum.value, '%y')"}},
 "y": {"field": "v", "type": "quantitative",
  "scale": {"domain": [0, 150], "nice": false, "zero": true},
  "axis": {"title": "€/MWh", "titleFontSize": 48, "titleFontWeight": "bold", "titleX": -126, "titleY": 510, "grid": true, "tickSize": 17, "labelPadding": 29, "values": [0,10,20,30,40,50,60,70,80,90,100,110,120,130,140,150]}},
 "color": {"field": "s", "type": "nominal",
  "scale": {"domain": ["Peak für Cal 2026", "Gleit. Jahresdurchschn. Peak", "Base für Cal 2026", "Gleit. Jahresdurchschn. Base"], "range": ["#C00000", "#C00000", "#002060", "#002060"]},
  "legend": {"orient": "none", "legendX": 1274, "legendY": 683, "title": null, "labelFontSize": 50, "labelFont": "Liberation Sans", "labelColor": "black", "symbolType": "stroke", "symbolSize": 8836, "symbolStrokeWidth": 5.5, "clipHeight": 50, "strokeColor": "black", "fillColor": "white", "padding": 8, "rowPadding": 19, "symbolOffset": 37, "labelOffset": 28, "labelLimit": 2000, "encode": {"symbols": {"update": {"strokeCap": {"value": "round"}}}, "legend": {"update": {"strokeWidth": {"value": 2}}}}}},
 "strokeDash": {"field": "s", "type": "nominal",
  "scale": {"domain": ["Peak für Cal 2026", "Gleit. Jahresdurchschn. Peak", "Base für Cal 2026", "Gleit. Jahresdurchschn. Base"], "range": [[1, 0], [1, 11], [1, 0], [1, 11]]},
  "legend": {"orient": "none", "legendX": 1274, "legendY": 683, "title": null, "labelFontSize": 50, "labelFont": "Liberation Sans", "labelColor": "black", "symbolType": "stroke", "symbolSize": 8836, "symbolStrokeWidth": 5.5, "clipHeight": 50, "strokeColor": "black", "fillColor": "white", "padding": 8, "rowPadding": 19, "symbolOffset": 37, "labelOffset": 28, "labelLimit": 2000, "encode": {"symbols": {"update": {"strokeCap": {"value": "round"}}}, "legend": {"update": {"strokeWidth": {"value": 2}}}}}}
}
}
